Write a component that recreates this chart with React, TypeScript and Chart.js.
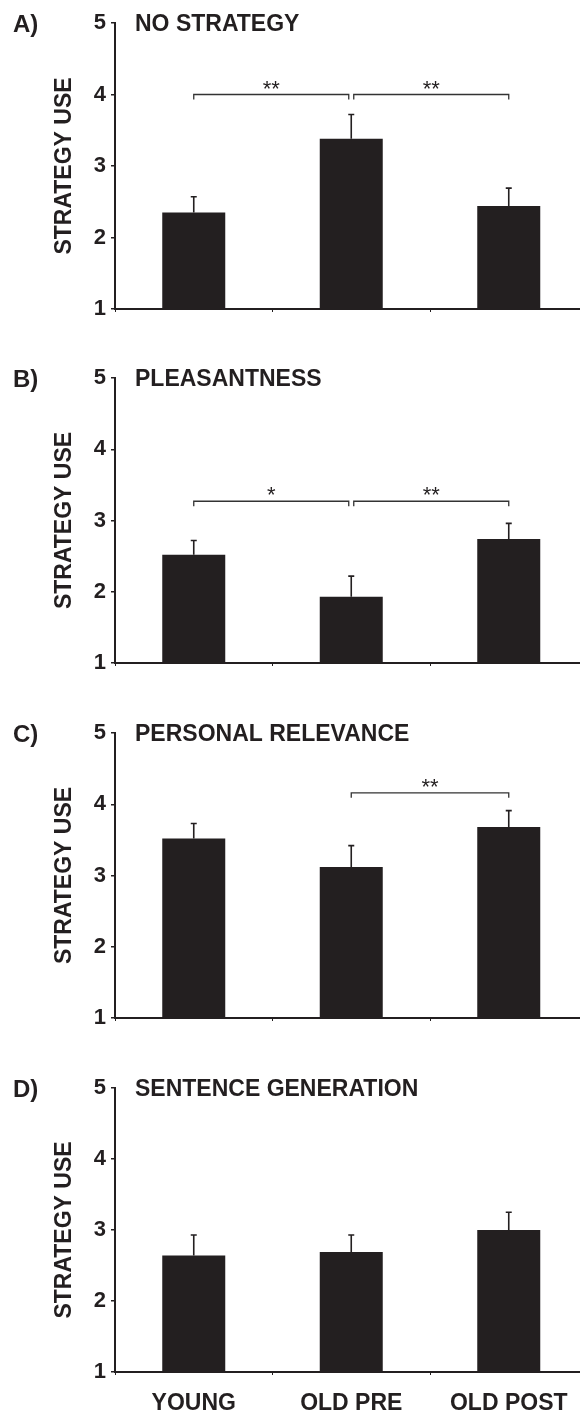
import React, { useEffect, useRef } from 'react';
import { Chart, registerables } from 'chart.js';

Chart.register(...registerables);

// ---- data ----
const categories = ['YOUNG', 'OLD PRE', 'OLD POST'];
const yTickValues = [1, 2, 3, 4, 5];
const panelLetters = ['A)', 'B)', 'C)', 'D)'];
const panelTitles = ['NO STRATEGY', 'PLEASANTNESS', 'PERSONAL RELEVANCE', 'SENTENCE GENERATION'];
const yAxisTitle = 'STRATEGY USE';

const noStrategyMeans = [2.35, 3.38, 2.44];
const noStrategyErrors = [0.22, 0.34, 0.25];
const pleasantnessMeans = [2.52, 1.93, 2.74];
const pleasantnessErrors = [0.2, 0.29, 0.22];
const personalRelevanceMeans = [3.52, 3.12, 3.68];
const personalRelevanceErrors = [0.21, 0.3, 0.23];
const sentenceGenerationMeans = [2.64, 2.69, 3.0];
const sentenceGenerationErrors = [0.29, 0.24, 0.25];

const noStrategyBrackets = [
  { from: 0, to: 1, y: 4.0, label: '**' },
  { from: 1, to: 2, y: 4.0, label: '**' },
];
const pleasantnessBrackets = [
  { from: 0, to: 1, y: 3.27, label: '*' },
  { from: 1, to: 2, y: 3.27, label: '**' },
];
const personalRelevanceBrackets = [{ from: 1, to: 2, y: 4.16, label: '**' }];
const sentenceGenerationBrackets: { from: number; to: number; y: number; label: string }[] = [];

// ---- style ----
const INK = '#231f20';
const FAMILY = '"Liberation Sans", Arial, Helvetica, sans-serif';

type Bracket = { from: number; to: number; y: number; label: string };

function Panel(props: {
  index: number;
  means: number[];
  errors: number[];
  brackets: Bracket[];
  showX: boolean;
  top: number;
  height: number;
  areaHeight: number;
}) {
  const ref = useRef<HTMLCanvasElement | null>(null);
  const { index, means, errors, brackets, showX, top, height, areaHeight } = props;

  useEffect(() => {
    if (!ref.current) return;
    const padTop = 23;
    const xHeight = height - padTop - areaHeight;

    const overlay = {
      id: 'overlay' + index,
      afterDatasetsDraw(chart: any) {
        const ctx = chart.ctx;
        const y = chart.scales.y;
        const meta = chart.getDatasetMeta(0);
        ctx.save();
        // error bars
        ctx.strokeStyle = INK;
        ctx.lineWidth = 1.6;
        means.forEach((m, i) => {
          const bx = meta.data[i].x;
          const y0 = y.getPixelForValue(m);
          const y1 = y.getPixelForValue(m + errors[i]);
          ctx.beginPath();
          ctx.moveTo(bx, y0);
          ctx.lineTo(bx, y1);
          ctx.moveTo(bx - 3, y1);
          ctx.lineTo(bx + 3, y1);
          ctx.stroke();
        });
        // significance brackets
        ctx.lineWidth = 1.3;
        ctx.strokeStyle = '#333';
        brackets.forEach((b, bi) => {
          const sharedLeft = brackets.some((o, oi) => oi !== bi && o.to === b.from);
          const sharedRight = brackets.some((o, oi) => oi !== bi && o.from === b.to);
          const x0 = meta.data[b.from].x + (sharedLeft ? 2.5 : 0);
          const x1 = meta.data[b.to].x - (sharedRight ? 2.5 : 0);
          const py = y.getPixelForValue(b.y);
          ctx.beginPath();
          ctx.moveTo(x0, py + 5);
          ctx.lineTo(x0, py);
          ctx.lineTo(x1, py);
          ctx.lineTo(x1, py + 5);
          ctx.stroke();
          ctx.fillStyle = INK;
          ctx.font = `22px ${FAMILY}`;
          ctx.textAlign = 'center';
          ctx.textBaseline = 'alphabetic';
          ctx.fillText(b.label, (x0 + x1) / 2, py + 1);
        });
        ctx.restore();
      },
      afterDraw(chart: any) {
        const ctx = chart.ctx;
        ctx.save();
        ctx.fillStyle = INK;
        ctx.textAlign = 'left';
        ctx.textBaseline = 'alphabetic';
        const by = chart.chartArea.top + 8;
        ctx.font = `bold 24px ${FAMILY}`;
        ctx.fillText(panelLetters[index], 13, by + 1);
        ctx.font = `bold 23px ${FAMILY}`;
        ctx.fillText(panelTitles[index], 135, by);
        ctx.restore();
      },
    };

    const chart = new Chart(ref.current, {
      type: 'bar',
      data: {
        labels: categories,
        datasets: [
          {
            data: means,
            backgroundColor: INK,
            borderWidth: 0,
            barPercentage: 0.4,
            categoryPercentage: 1,
          },
        ],
      },
      options: {
        responsive: false,
        animation: false,
        devicePixelRatio: 1,
        layout: { padding: { top: padTop, right: 2.5, left: 0, bottom: 0 } },
        plugins: { legend: { display: false }, tooltip: { enabled: false } },
        scales: {
          x: {
            type: 'category',
            offset: true,
            grid: {
              display: true,
              drawOnChartArea: false,
              drawTicks: true,
              tickLength: 3,
              color: INK,
              lineWidth: 1,
              offset: true,
            },
            border: { display: true, color: INK, width: 2 },
            ticks: {
              display: showX,
              color: INK,
              font: { family: FAMILY, size: 23, weight: 'bold' },
              padding: 15,
              maxRotation: 0,
              autoSkip: false,
            },
            afterFit: (s: any) => {
              s.height = xHeight;
            },
          },
          y: {
            type: 'linear',
            min: 1,
            max: 5,
            afterBuildTicks: (s: any) => {
              s.ticks = yTickValues.map((v) => ({ value: v }));
            },
            ticks: {
              color: INK,
              font: { family: FAMILY, size: 22, weight: 'bold' },
              padding: 5,
            },
            grid: {
              drawOnChartArea: false,
              drawTicks: true,
              tickLength: 4,
              color: INK,
              lineWidth: 1.5,
            },
            border: { display: true, color: INK, width: 2 },
            title: {
              display: true,
              text: yAxisTitle,
              color: INK,
              font: { family: FAMILY, size: 23, weight: 'bold' },
              padding: { top: 51, bottom: 0 },
            },
            afterFit: (s: any) => {
              s.width = 115;
            },
          },
        },
      } as any,
      plugins: [overlay],
    });
    return () => chart.destroy();
  }, [index, means, errors, brackets, showX, height, areaHeight]);

  return (
    <canvas
      ref={ref}
      width={590}
      height={height}
      style={{ position: 'absolute', left: 0, top, width: 590, height, display: 'block' }}
    />
  );
}

export default function App() {
  return (
    <div
      style={{
        position: 'absolute',
        left: 0,
        top: 0,
        width: 580,
        height: 1412,
        overflow: 'hidden',
        background: '#ffffff',
      }}
    >
      <Panel index={0} means={noStrategyMeans} errors={noStrategyErrors} brackets={noStrategyBrackets} showX={false} top={0} height={355} areaHeight={286} />
      <Panel index={1} means={pleasantnessMeans} errors={pleasantnessErrors} brackets={pleasantnessBrackets} showX={false} top={355} height={355} areaHeight={285} />
      <Panel index={2} means={personalRelevanceMeans} errors={personalRelevanceErrors} brackets={personalRelevanceBrackets} showX={false} top={710} height={355} areaHeight={285} />
      <Panel index={3} means={sentenceGenerationMeans} errors={sentenceGenerationErrors} brackets={sentenceGenerationBrackets} showX={true} top={1065} height={347} areaHeight={284} />
    </div>
  );
}
